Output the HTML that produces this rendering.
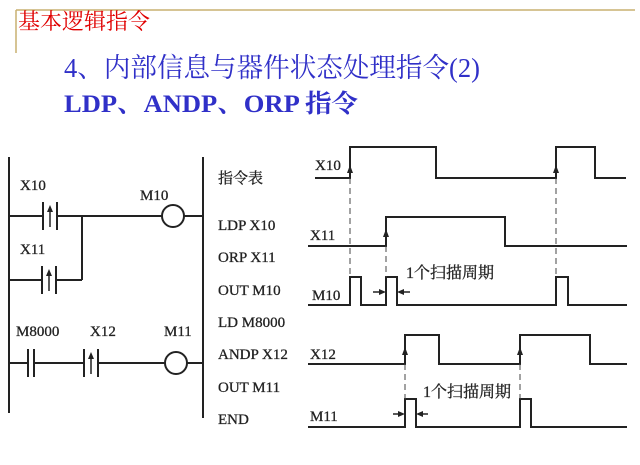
<!DOCTYPE html>
<html><head><meta charset="utf-8"><style>
body{margin:0;width:640px;height:460px;background:#fff;overflow:hidden}
svg text{font-family:"Liberation Serif","Noto Serif CJK SC",serif}
</style></head><body>
<svg width="640" height="460" xmlns="http://www.w3.org/2000/svg">
<g stroke="#c8b070" stroke-width="1.5" fill="none"><line x1="16" y1="10" x2="635" y2="10"/><line x1="16" y1="10" x2="16" y2="53"/></g>
<text x="18" y="29" font-size="22" fill="#e00000">基本逻辑指令</text>
<text x="64" y="77" font-size="27" fill="#3030c8" textLength="416" lengthAdjust="spacingAndGlyphs">4、内部信息与器件状态处理指令(2)</text>
<text x="64" y="112" font-size="25" font-weight="bold" fill="#3030c8" textLength="294" lengthAdjust="spacingAndGlyphs">LDP、ANDP、ORP 指令</text>
<g stroke="#222" stroke-width="2" fill="none">
<line x1="9" y1="157" x2="9" y2="413"/><line x1="203" y1="157" x2="203" y2="418"/>
<line x1="9" y1="216" x2="43" y2="216"/><line x1="57" y1="216" x2="162" y2="216"/><line x1="184" y1="216" x2="203" y2="216"/>
<line x1="43" y1="202" x2="43" y2="230"/><line x1="57" y1="202" x2="57" y2="230"/>
<line x1="82" y1="216" x2="82" y2="280"/>
<line x1="9" y1="280" x2="42" y2="280"/><line x1="56" y1="280" x2="82" y2="280"/>
<line x1="42" y1="266" x2="42" y2="294"/><line x1="56" y1="266" x2="56" y2="294"/>
<circle cx="173" cy="216" r="11"/>
<line x1="9" y1="363" x2="28" y2="363"/><line x1="34" y1="363" x2="84" y2="363"/><line x1="98" y1="363" x2="165" y2="363"/><line x1="187" y1="363" x2="203" y2="363"/>
<line x1="28" y1="349" x2="28" y2="377"/><line x1="34" y1="349" x2="34" y2="377"/>
<line x1="84" y1="349" x2="84" y2="377"/><line x1="98" y1="349" x2="98" y2="377"/>
<circle cx="176" cy="363" r="11"/>
<line x1="50" y1="227" x2="50" y2="209" stroke-width="1.5"/><line x1="49" y1="291" x2="49" y2="273" stroke-width="1.5"/><line x1="91" y1="374" x2="91" y2="356" stroke-width="1.5"/>
</g>
<g fill="#222"><path d="M50 205 L47 212 L53 212Z"/><path d="M49 269 L46 276 L52 276Z"/><path d="M91 352 L88 359 L94 359Z"/></g>
<g font-size="15" fill="#222" stroke="#222" stroke-width="0.3">
<text x="20" y="190">X10</text><text x="20" y="254">X11</text><text x="140" y="200">M10</text>
<text x="16" y="336">M8000</text><text x="90" y="336">X12</text><text x="164" y="336">M11</text>
<text x="218" y="183">指令表</text><text x="218" y="230">LDP X10</text><text x="218" y="262">ORP X11</text><text x="218" y="295">OUT M10</text><text x="218" y="327">LD M8000</text><text x="218" y="359">ANDP X12</text><text x="218" y="392">OUT M11</text><text x="218" y="424">END</text>
<text x="315" y="170">X10</text><text x="310" y="240">X11</text><text x="312" y="300">M10</text><text x="310" y="359">X12</text><text x="310" y="421">M11</text>
<text x="406" y="278" font-size="16">1个扫描周期</text><text x="423" y="397" font-size="16">1个扫描周期</text>
</g>
<g stroke="#222" stroke-width="2" fill="none">
<polyline points="315,178 350,178 350,147 436,147 436,178 556,178 556,147 595,147 595,178 626,178"/>
<polyline points="308,246 386,246 386,217 505,217 505,246 627,246"/>
<polyline points="308,305 350,305 350,277 361,277 361,305 386,305 386,277 397,277 397,305 556,305 556,277 568,277 568,305 627,305"/>
<polyline points="308,364 405,364 405,335 439,335 439,364 520,364 520,335 590,335 590,364 627,364"/>
<polyline points="308,427 405,427 405,399 416,399 416,427 520,427 520,399 531,399 531,427 627,427"/>
</g>
<g stroke="#444" stroke-width="1" stroke-dasharray="6,4">
<line x1="350" y1="178" x2="350" y2="277"/><line x1="386" y1="246" x2="386" y2="277"/><line x1="556" y1="178" x2="556" y2="277"/>
<line x1="405" y1="364" x2="405" y2="399"/><line x1="520" y1="364" x2="520" y2="399"/>
</g>
<g stroke="#222" stroke-width="1.5"><line x1="373" y1="292" x2="382" y2="292"/><line x1="401" y1="292" x2="410" y2="292"/><line x1="393" y1="414" x2="401" y2="414"/><line x1="420" y1="414" x2="428" y2="414"/></g>
<g fill="#222">
<path d="M386 292 L379 289 L379 295Z"/><path d="M397 292 L404 289 L404 295Z"/>
<path d="M405 414 L398 411 L398 417Z"/><path d="M416 414 L423 411 L423 417Z"/>
<path d="M350 165 L347 173 L353 173Z"/><path d="M556 165 L553 173 L559 173Z"/><path d="M386 229 L383 237 L389 237Z"/>
<path d="M405 347 L402 355 L408 355Z"/><path d="M520 347 L517 355 L523 355Z"/>
</g>
</svg>
</body></html>
